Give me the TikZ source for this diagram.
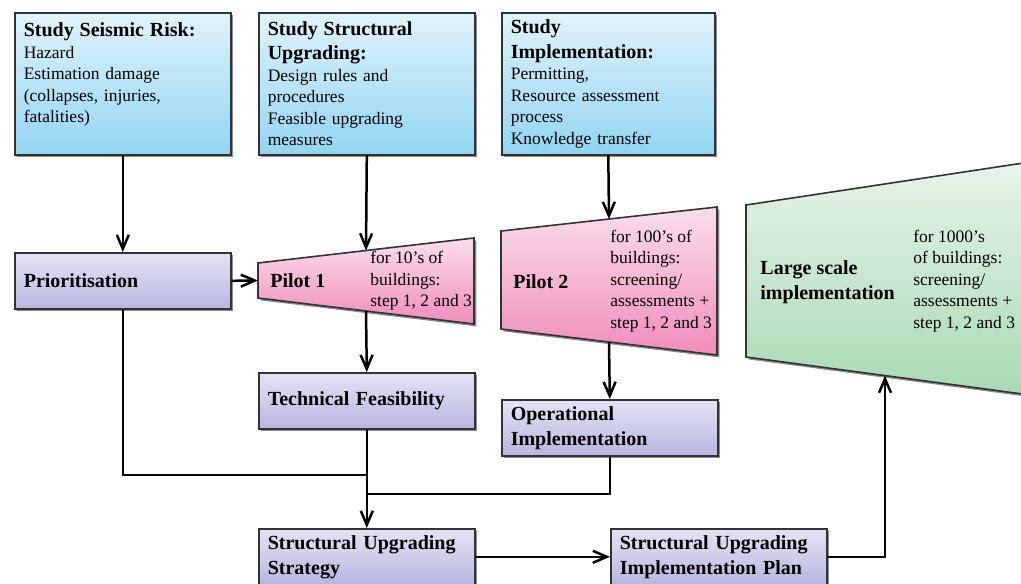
\documentclass[tikz,border=0pt]{standalone}
\usepackage{fontspec}
\setmainfont{Liberation Serif}
\usetikzlibrary{arrows.meta,shadows,calc}

\definecolor{blueA}{RGB}{224,243,251}
\definecolor{blueB}{RGB}{146,213,242}
\definecolor{lavA}{RGB}{228,227,244}
\definecolor{lavB}{RGB}{184,182,223}
\definecolor{pinkA}{RGB}{250,222,236}
\definecolor{pinkB}{RGB}{240,140,187}
\definecolor{greenA}{RGB}{231,244,234}
\definecolor{greenB}{RGB}{168,217,180}

\tikzset{
  shade/.style={drop shadow={shadow xshift=1.2pt,shadow yshift=-1.2pt,opacity=0.45,fill=black}},
  box/.style={draw=black!80,line width=0.8pt,anchor=north west,align=left,
    inner xsep=4.5pt,inner ysep=2pt,shade},
  studybox/.style={box,top color=blueA,bottom color=blueB,text width=99pt,
    minimum height=71pt,font=\fontsize{8.75}{10.75}\selectfont},
  stepbox/.style={box,top color=lavA,bottom color=lavB,text width=99pt,
    minimum height=28pt,font=\fontsize{10}{12.5}\selectfont\bfseries},
  pilotfill/.style={draw=black!80,line width=0.8pt,top color=pinkA,bottom color=pinkB,shade},
  largefill/.style={draw=black!80,line width=0.8pt,top color=greenA,bottom color=greenB,shade},
  note/.style={anchor=west,align=left,inner sep=0pt,font=\fontsize{8.75}{10.75}\selectfont},
  heading/.style={anchor=west,align=left,inner sep=0pt,font=\fontsize{10}{12.5}\selectfont\bfseries},
  conn/.style={line width=1.25pt},
}

\begin{document}
\begin{tikzpicture}[x=0.5pt,y=-0.5pt,>={Straight Barb[length=7pt,width=6pt]}]
  \useasboundingbox (0,0) rectangle (1021,583);
  \clip (0,0) rectangle (1021,583);

  % studies on top
  \node[studybox] (risk) at (14,12) {\textbf{\fontsize{10}{12.5}\selectfont Study Seismic Risk:}\\
    Hazard\\ Estimation damage\\ (collapses, injuries,\\ fatalities)\\ ~};
  \node[studybox] (upg) at (258,12) {\textbf{\fontsize{10}{12.5}\selectfont Study Structural}\\[1.5pt]
    \textbf{\fontsize{10}{12.5}\selectfont Upgrading:}\\
    Design rules and\\ procedures\\ Feasible upgrading\\ measures};
  \node[studybox,text width=97.5pt] (impl) at (501,12) {\textbf{\fontsize{10}{12.5}\selectfont Study}\\[1.5pt]
    \textbf{\fontsize{10}{12.5}\selectfont Implementation:}\\
    Permitting,\\ Resource assessment\\ process\\ Knowledge transfer};

  % pilots and large scale
  \path[pilotfill] (258,263) coordinate (p1tl) -- (474,238) coordinate (p1tr)
    -- (474,324) coordinate (p1br) -- (258,298) coordinate (p1bl) -- cycle;
  \path[pilotfill] (501,231) coordinate (p2tl) -- (717,207) coordinate (p2tr)
    -- (717,355) coordinate (p2br) -- (501,329) coordinate (p2bl) -- cycle;
  \path[largefill] (746,205) coordinate (gtl) -- (1030,162) coordinate (gtr)
    -- (1030,395) coordinate (gbr) -- (746,357) coordinate (gbl) -- cycle;

  \node[heading] (pilot1) at (270,281) {Pilot 1};
  \node[note] (pilot1txt) at (370,281) {for 10’s of\\ buildings:\\ step 1, 2 and 3};
  \node[heading] (pilot2) at (513,282) {Pilot 2};
  \node[note] (pilot2txt) at (610,281) {for 100’s of\\ buildings:\\ screening/\\ assessments +\\ step 1, 2 and 3};
  \node[heading] (large) at (760,282) {Large scale\\ implementation};
  \node[note] (largetxt) at (913,281) {for 1000’s\\ of buildings:\\ screening/\\ assessments +\\ step 1, 2 and 3};

  % steps
  \node[stepbox] (prio) at (14,252) {Prioritisation};
  \node[stepbox] (tech) at (258,372) {Technical Feasibility};
  \node[stepbox] (oper) at (501,399) {Operational\\ Implementation};
  \node[stepbox] (strat) at (258,528) {Structural Upgrading\\ Strategy};
  \node[stepbox] (plan) at (610,528) {Structural Upgrading\\ Implementation Plan};

  % points on the slanted edges
  \coordinate (p1in) at ($(p1tl)!0.5!(p1tr)$);
  \coordinate (p1out) at ($(p1bl)!0.5!(p1br)$);
  \coordinate (p1w) at ($(p1tl)!0.5!(p1bl)$);
  \coordinate (p2in) at ($(p2tl)!0.5!(p2tr)$);
  \coordinate (p2out) at ($(p2bl)!0.5!(p2br)$);
  \coordinate (gin) at ($(gbl)!0.4894!(gbr)$);
  \coordinate (j1) at (366,475);
  \coordinate (j2) at (366,494);

  % connectors
  \draw[conn,->] (risk.south) -- (prio.north);
  \draw[conn,->] (upg.south) -- (p1in);
  \draw[conn,->] (impl.south) -- (p2in);
  \draw[conn,->] (prio.east) -- (p1w);
  \draw[conn,->] (p1out) -- (tech.north);
  \draw[conn,->] (p2out) -- (oper.north);
  \draw[conn] (prio.south) |- (j1);
  \draw[conn] (oper.south) |- (j2);
  \draw[conn,->] (tech.south) -- (strat.north);
  \draw[conn,->] (strat.east) -- (plan.west);
  \draw[conn,->] (plan.east) -| (gin);
\end{tikzpicture}
\end{document}
